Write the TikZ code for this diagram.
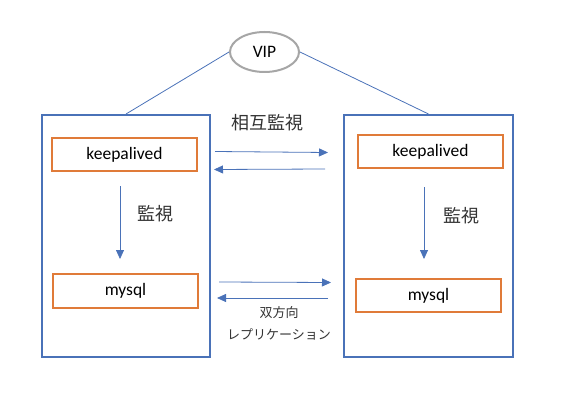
\documentclass[tikz,border=0pt]{standalone}
\usepackage{fontspec}
\setmainfont{Carlito}
\newfontfamily\cjk{Noto Sans CJK JP}
\usetikzlibrary{arrows.meta,shapes.geometric}
\definecolor{bblue}{HTML}{4A72B8}
\definecolor{borange}{HTML}{E07B39}
\definecolor{vgray}{HTML}{A6A6A6}
\tikzset{
  outer/.style={draw=bblue,line width=2pt,minimum width=168pt,minimum height=242pt,inner sep=0pt},
  inner/.style={draw=borange,line width=2pt,minimum width=145pt,minimum height=33pt,inner sep=0pt,font=\fontsize{17.5}{20}\selectfont},
  conn/.style={draw=bblue,line width=0.8pt},
  arr/.style={conn,-{Triangle[length=9pt,width=8pt]}},
  lbl/.style={font=\cjk\fontsize{18}{20}\selectfont,text=black!80,inner sep=0pt},
  small/.style={font=\cjk\fontsize{13}{15}\selectfont,text=black!80,inner sep=0pt},
}
\begin{document}
\begin{tikzpicture}[x=1pt,y=-1pt]
\useasboundingbox (0,0) rectangle (567,417);
\node[outer] (lbig) at (126,236) {};
\node[outer,minimum width=169pt] (rbig) at (428.5,236) {};
\node[inner] (lk) at (124.5,154.5) {keepalived};
\node[inner,minimum height=34pt] (lm) at (125.5,291) {mysql};
\node[inner] (rk) at (430.5,151.5) {keepalived};
\node[inner] (rm) at (428.5,295.5) {mysql};
\node[ellipse,draw=vgray,line width=2pt,minimum width=69pt,minimum height=40pt,inner sep=0pt,font=\fontsize{17.5}{20}\selectfont] (vip) at (264.5,52) {VIP};
\draw[conn] (vip.west) -- (lbig.north);
\draw[conn] (vip.east) -- (rbig.north);
% monitoring arrows
\coordinate (a1s) at (215,151.5);
\coordinate (a1e) at (328,152.5);
\coordinate (a2s) at (325,169);
\coordinate (a2e) at (214,169.5);
\draw[arr] (a1s) -- (a1e);
\draw[arr] (a2s) -- (a2e);
\node[lbl] (mutual) at (267,123) {相互監視};
% replication arrows
\coordinate (b1s) at (219,282);
\coordinate (b1e) at (331,282.5);
\coordinate (b2s) at (328,298);
\coordinate (b2e) at (217,298);
\draw[arr] (b1s) -- (b1e);
\draw[arr] (b2s) -- (b2e);
\node[small] (bidir) at (279,313) {双方向};
\node[small] (repl) at (279,334) {レプリケーション};
% vertical monitor arrows
\coordinate (l1) at (120,186);
\coordinate (l2) at (120,259);
\coordinate (r1) at (424,187);
\coordinate (r2) at (424,259);
\draw[arr] (l1) -- (l2);
\draw[arr] (r1) -- (r2);
\node[lbl] (lmon) at (155,214) {監視};
\node[lbl] (rmon) at (461,216) {監視};
\end{tikzpicture}
\end{document}
